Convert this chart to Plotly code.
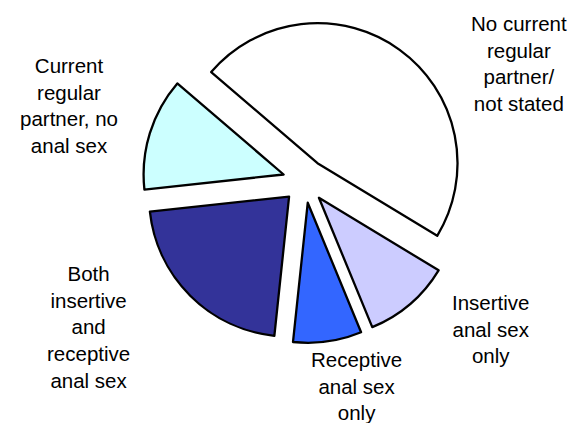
import plotly.graph_objects as go

categories = [
    "No current regular partner/not stated",
    "Insertive anal sex only",
    "Receptive anal sex only",
    "Both insertive and receptive anal sex",
    "Current regular partner, no anal sex",
]
values = [47.4, 10.1, 7.9, 21.6, 13.0]
label_texts = [
    "No current<br>regular<br>partner/<br>not stated",
    "Insertive<br>anal sex<br>only",
    "Receptive<br>anal sex<br>only",
    "Both<br>insertive<br>and<br>receptive<br>anal sex",
    "Current<br>regular<br>partner, no<br>anal sex",
]
colors = ["#FFFFFF", "#CCCCFF", "#3366FF", "#333399", "#CCFFFF"]

W, H = 570, 423
label_pos = [(519, 63), (491, 329), (357, 386), (88, 327), (69, 106)]

fig = go.Figure(go.Pie(
    labels=categories,
    values=values,
    sort=False,
    direction="clockwise",
    rotation=-49.4,
    pull=[0.157] * 5,
    marker=dict(colors=colors, line=dict(color="black", width=2.3)),
    textinfo="none",
    hoverinfo="label+percent",
    domain=dict(x=[0.2502, 0.8186], y=[0.1891, 0.9551]),
    showlegend=False,
))

for txt, (px, py) in zip(label_texts, label_pos):
    fig.add_annotation(
        x=px / W, y=1 - py / H, xref="paper", yref="paper",
        text=txt, showarrow=False, align="center",
        xanchor="center", yanchor="middle",
        font=dict(family="Liberation Sans, Arial, sans-serif", size=20.5, color="black"),
    )

fig.update_layout(
    width=W, height=H,
    margin=dict(l=0, r=0, t=0, b=0),
    paper_bgcolor="white", plot_bgcolor="white",
)

fig.write_html(
    "out.html",
    config={"displayModeBar": False},
    post_script="document.body.style.margin='0';document.body.style.overflow='hidden';",
)
